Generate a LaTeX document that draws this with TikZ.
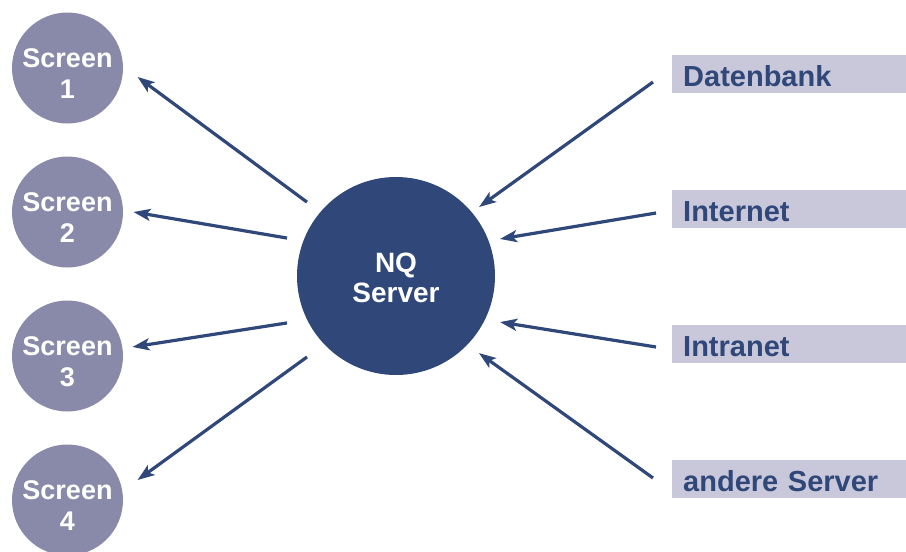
\documentclass[tikz,border=0pt]{standalone}
\usepackage{fontspec}
\setmainfont{Liberation Sans}
\usetikzlibrary{arrows.meta}

\definecolor{nqblue}{RGB}{47,71,121}
\definecolor{screengray}{RGB}{137,137,170}
\definecolor{boxgray}{RGB}{201,200,218}

\begin{document}
\begin{tikzpicture}[x=1pt,y=-1pt,
  >={Stealth[length=17pt,width=12pt,inset=4pt]},
  screentext/.style={text=white,align=center,font=\fontsize{27}{31}\selectfont\bfseries},
  screen/.style={circle,fill=screengray,minimum size=111pt,inner sep=0pt,
    label={[screentext,yshift=-6pt]center:{#1}}},
  server/.style={circle,fill=nqblue,minimum size=198pt,inner sep=0pt,
    label={[screentext,font=\fontsize{28}{30}\selectfont\bfseries,yshift=-2pt]center:{#1}}},
  source/.style={fill=boxgray,anchor=west,minimum height=38pt,text width=212pt,
    inner xsep=11pt,inner ysep=0pt,align=left,text=nqblue,
    text height=31pt,text depth=7pt,font=\fontsize{29}{30}\selectfont\bfseries},
  link/.style={->,draw=nqblue,line width=3.2pt}]
\useasboundingbox (0,0) rectangle (906,552);

\node[server={NQ\\Server}] (nq) at (396,276) {};

\node[screen={Screen\\1}] (s1) at (67.5,68)  {};
\node[screen={Screen\\2}] (s2) at (67.5,212) {};
\node[screen={Screen\\3}] (s3) at (67.5,356) {};
\node[screen={Screen\\4}] (s4) at (67.5,500) {};

\node[source] (db)    at (672,74)  {Datenbank};
\node[source] (inet)  at (672,209) {Internet};
\node[source] (intra) at (672,344) {Intranet};
\node[source] (other) at (672,479) {andere Server};

% server -> screens
\draw[link] ([shift={(140.3:115.7pt)}]nq.center) -- ([shift={(-7.3:70.6pt)}]s1.center);
\draw[link] ([shift={(160.8:115.4pt)}]nq.center) -- ([shift={(0:66pt)}]s2.center);
\draw[link] ([shift={(203.3:118.7pt)}]nq.center) -- ([shift={(7.9:65.6pt)}]s3.center);
\draw[link] ([shift={(222.3:120.3pt)}]nq.center) -- ([shift={(15.9:72.8pt)}]s4.center);

% sources -> server
\draw[link] ([xshift=-19pt,yshift=-8pt]db.west)    -- ([shift={(39.7:108pt)}]nq.center);
\draw[link] ([xshift=-16pt,yshift=-4pt]inet.west)  -- ([shift={(19.6:110.4pt)}]nq.center);
\draw[link] ([xshift=-16pt,yshift=-3pt]intra.west) -- ([shift={(-23.9:113.7pt)}]nq.center);
\draw[link] ([xshift=-19pt,yshift=1pt]other.west)  -- ([shift={(-42.9:113.2pt)}]nq.center);

\end{tikzpicture}
\end{document}
